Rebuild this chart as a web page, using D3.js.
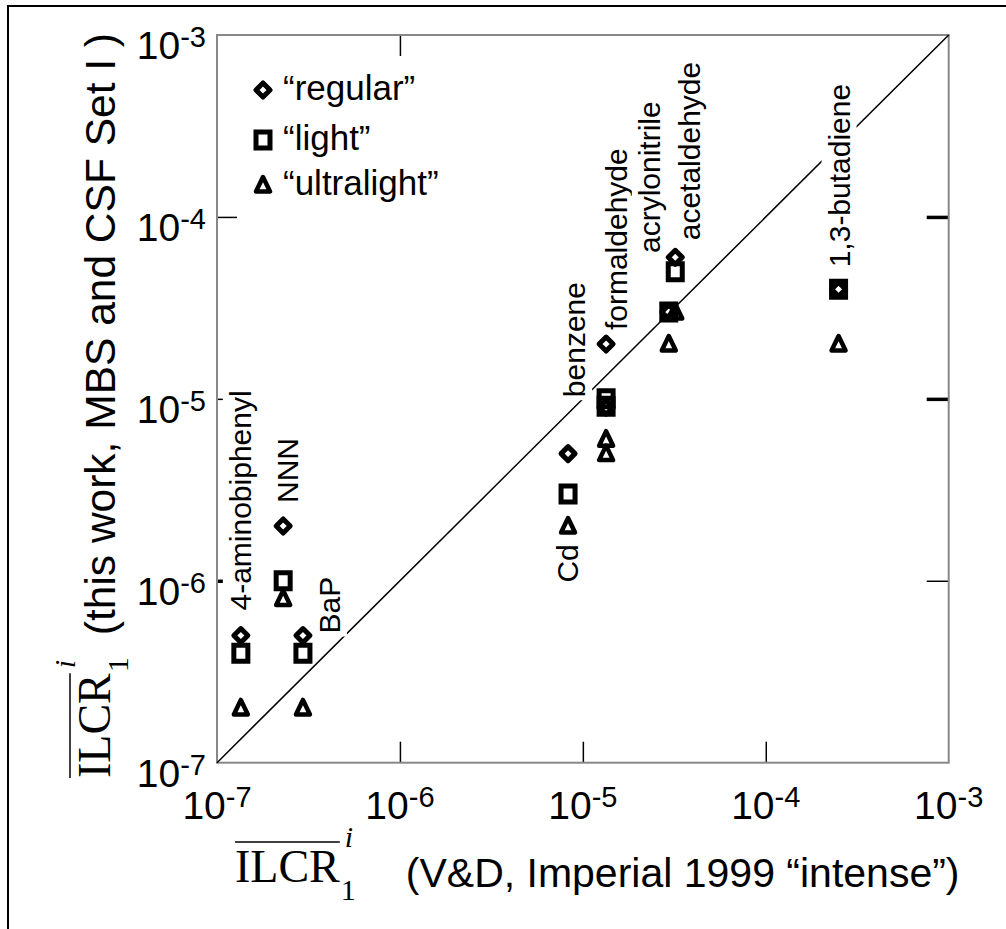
<!DOCTYPE html>
<html>
<head>
<meta charset="utf-8">
<script src="https://cdn.jsdelivr.net/npm/d3@7"></script>
<style>
	body { margin: 0; background: #fff; }
	svg { display: block; }
</style>
</head>
<body>
<div id="chart"></div>
<script>
// data
const compounds = ['4-aminobiphenyl', 'NNN', 'BaP', 'Cd', 'benzene', 'formaldehyde', 'acrylonitrile', 'acetaldehyde', '1,3-butadiene'];
const vdValues = [1.35e-7, 2.3e-7, 2.95e-7, 8.3e-6, 1.34e-5, 1.34e-5, 2.95e-5, 3.2e-5, 2.5e-4];
const regular = [5e-7, 2e-6, 5e-7, 5e-6, 9e-6, 2e-5, 3e-5, 6e-5, 4e-5];
const light = [4e-7, 1e-6, 4e-7, 3e-6, 9.1e-6, 1e-5, 3e-5, 5e-5, 4e-5];
const ultralight = [2e-7, 8e-7, 2e-7, 2e-6, 5e-6, 6e-6, 2e-5, 3e-5, 2e-5];
const seriesNames = ['\u201cregular\u201d', '\u201clight\u201d', '\u201cultralight\u201d'];
const tickExponents = [-7, -6, -5, -4, -3];

(() => {
	const sans = 'Liberation Sans, Arial, Helvetica, sans-serif';
	const serif = 'Liberation Serif, Times New Roman, serif';
	const width = 1006;
	const height = 929;
	const plot = { left: 217, top: 35, right: 948.7, bottom: 762.7 };

	// label placement, pixels from the "regular" point of each compound
	const labelOffset = {
		'4-aminobiphenyl': [10, -25],
		NNN: [15, -23],
		BaP: [37, -2],
		Cd: [10, 129],
		benzene: [-21, -10],
		formaldehyde: [21, -14],
		acrylonitrile: [-9, -59],
		acetaldehyde: [25, -17],
		'1,3-butadiene': [11, -22],
	};

	const svg = d3.select('#chart').append('svg')
		.attr('width', width)
		.attr('height', height)
		.style('font-family', sans);

	svg.append('rect')
		.attr('width', width).attr('height', height)
		.attr('fill', '#fff');

	// outer frame (runs off the right and bottom edge)
	svg.append('rect')
		.attr('x', 8).attr('y', 6)
		.attr('width', 1100).attr('height', 1000)
		.attr('fill', 'none')
		.attr('stroke', '#000')
		.attr('stroke-width', 2);

	const x = d3.scaleLog().domain([1e-7, 1e-3]).range([plot.left, plot.right]);
	const y = d3.scaleLog().domain([1e-7, 1e-3]).range([plot.bottom, plot.top]);

	const inner = [1e-6, 1e-5, 1e-4];
	const thick = {
		left: [1e-6],
		right: [1e-5, 1e-4],
	};

	function tickAxis(axis, transform, len, side) {
		const g = svg.append('g')
			.attr('transform', transform)
			.call(axis.tickValues(side === 'top' ? [1e-6] : inner).tickSize(-len).tickFormat(''));
		g.select('.domain').remove();
		g.selectAll('.tick line')
			.attr('stroke', '#000')
			.attr('stroke-width', d => ((thick[side] || []).includes(d) ? 3.5 : 1.5));
	}

	tickAxis(d3.axisBottom(x), `translate(0,${plot.bottom})`, 21, 'bottom');
	tickAxis(d3.axisTop(x), `translate(0,${plot.top})`, 21, 'top');
	tickAxis(d3.axisLeft(y), `translate(${plot.left},0)`, 20, 'left');
	tickAxis(d3.axisRight(y), `translate(${plot.right},0)`, 22, 'right');

	// plot frame
	svg.append('rect')
		.attr('x', plot.left).attr('y', plot.top)
		.attr('width', plot.right - plot.left)
		.attr('height', plot.bottom - plot.top)
		.attr('fill', 'none')
		.attr('stroke', '#888')
		.attr('stroke-width', 2);

	// tick labels 10^n
	function powerLabel(sel) {
		sel.attr('font-size', 39).attr('fill', '#000')
			.text('10')
			.append('tspan')
			.attr('font-size', 29)
			.attr('dy', -12)
			.text(d => d);
	}

	svg.append('g').selectAll('text')
		.data(tickExponents)
		.join('text')
		.attr('x', d => x(Math.pow(10, d)))
		.attr('y', plot.bottom + 56)
		.attr('text-anchor', 'middle')
		.call(powerLabel);

	svg.append('g').selectAll('text')
		.data(tickExponents)
		.join('text')
		.attr('x', plot.left - 11)
		.attr('y', d => y(Math.pow(10, d)) + 24)
		.attr('text-anchor', 'end')
		.call(powerLabel);

	// 1:1 line
	const line = d3.line()
		.x(d => x(d))
		.y(d => y(d));
	svg.append('path')
		.attr('d', line([1e-7, 1e-3]))
		.attr('fill', 'none')
		.attr('stroke', '#000')
		.attr('stroke-width', 1.5);

	// compound labels with white backing
	const labelLayer = svg.append('g');
	compounds.forEach((name, i) => {
		const off = labelOffset[name];
		const px = x(vdValues[i]) + off[0];
		const py = y(regular[i]) + off[1];
		const g = labelLayer.append('g')
			.attr('transform', `translate(${px},${py}) rotate(-90)`);
		const t = g.append('text')
			.attr('font-size', 30)
			.attr('fill', '#000')
			.text(name);
		const bb = t.node().getBBox();
		g.insert('rect', 'text')
			.attr('x', bb.x - 3).attr('y', bb.y - 1)
			.attr('width', bb.width + 6).attr('height', bb.height + 2)
			.attr('fill', '#fff');
	});

	// markers
	const shapes = [
		'M0,-7L7,0L0,7L-7,0Z',
		'M-7,-8H7V8H-7Z',
		'M0,-8L7,6.5H-7Z',
	];
	const strokeW = [5, 5, 4.5];
	const series = [regular, light, ultralight];

	series.forEach((vals, s) => {
		svg.append('g').selectAll('path')
			.data(vals)
			.join('path')
			.attr('transform', (d, i) => `translate(${x(vdValues[i])},${y(d)})`)
			.attr('d', shapes[s])
			.attr('fill', 'none')
			.attr('stroke', '#000')
			.attr('stroke-width', strokeW[s])
			.attr('stroke-linejoin', s === 1 ? 'miter' : 'round');
	});

	// legend
	const legend = svg.append('g');
	const legendY = [90, 140, 185];
	seriesNames.forEach((name, s) => {
		legend.append('path')
			.attr('transform', `translate(263,${legendY[s]})`)
			.attr('d', shapes[s])
			.attr('fill', 'none')
			.attr('stroke', '#000')
			.attr('stroke-width', strokeW[s])
			.attr('stroke-linejoin', s === 1 ? 'miter' : 'round');
		legend.append('text')
			.attr('x', 283)
			.attr('y', legendY[s] + 10)
			.attr('font-size', 35)
			.text(name);
	});

	// axis titles: overlined ILCR with sub 1 and italic sup i
	function axisTitle(g, rest, gap, restSize) {
		const main = g.append('text')
			.attr('font-family', serif)
			.attr('font-size', 46)
			.text('ILCR');
		const w = main.node().getComputedTextLength();
		g.append('line')
			.attr('x1', 0).attr('x2', w)
			.attr('y1', -40).attr('y2', -40)
			.attr('stroke', '#000')
			.attr('stroke-width', 1.5);
		g.append('text')
			.attr('font-family', serif)
			.attr('font-size', 30)
			.attr('x', w + 1).attr('y', 18)
			.text('1');
		g.append('text')
			.attr('font-family', serif)
			.attr('font-style', 'italic')
			.attr('font-size', 30)
			.attr('x', w + 5).attr('y', -35)
			.text('i');
		g.append('text')
			.attr('font-size', restSize)
			.attr('x', w + gap).attr('y', 5)
			.text(rest);
	}

	axisTitle(svg.append('g').attr('transform', 'translate(235,882)'),
		'(V&D, Imperial 1999 \u201cintense\u201d)', 66, 41);
	axisTitle(svg.append('g').attr('transform', 'translate(110,778) rotate(-90)'),
		'(this work, MBS and CSF Set I )', 38, 42.5);
})();
</script>
</body>
</html>
